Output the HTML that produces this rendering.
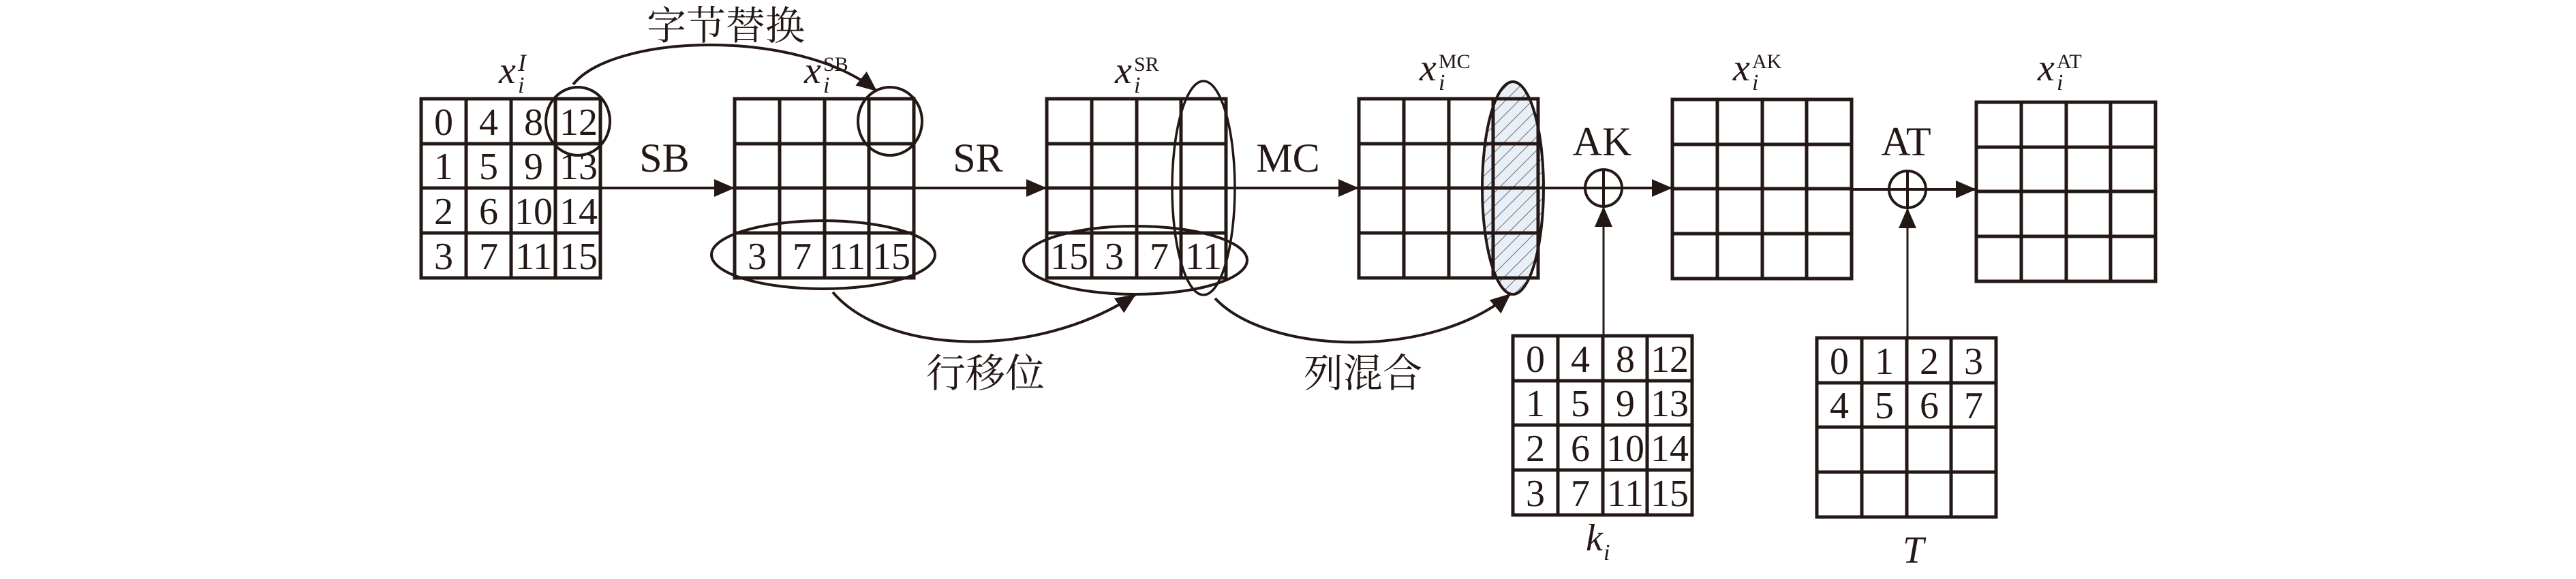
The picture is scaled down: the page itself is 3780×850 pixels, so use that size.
<!DOCTYPE html>
<html><head><meta charset="utf-8"><style>
html,body{margin:0;padding:0;background:#fff;width:3780px;height:850px;overflow:hidden}
svg{display:block}
text{font-family:"Liberation Serif","Noto Serif CJK SC",serif;fill:#231815}
.d{font-size:56px;text-anchor:middle}
.l{font-size:60px;text-anchor:middle}
.c{font-family:"Liberation Serif","Noto Serif CJK SC",serif;font-size:58px;text-anchor:middle}
</style></head><body>
<svg width="3780" height="850" viewBox="0 0 3780 850" xmlns="http://www.w3.org/2000/svg">
<defs>
<marker id="a" markerUnits="userSpaceOnUse" markerWidth="30" markerHeight="30" viewBox="0 0 30 30" refX="30" refY="15" orient="auto">
<path d="M0,2 L30,15 L0,28 Z" fill="#231815"/></marker>
<pattern id="h" patternUnits="userSpaceOnUse" width="14" height="14" patternTransform="rotate(45)">
<rect width="14" height="14" fill="#e9eff7"/><line x1="0" y1="0" x2="0" y2="14" stroke="#6b6b6b" stroke-width="2"/></pattern>
<g id="g" fill="none" stroke="#231815" stroke-width="5">
<rect x="0" y="0" width="263" height="263"/>
<line x1="66" y1="0" x2="66" y2="263"/><line x1="132" y1="0" x2="132" y2="263"/><line x1="197" y1="0" x2="197" y2="263"/>
<line x1="0" y1="66" x2="263" y2="66"/><line x1="0" y1="131" x2="263" y2="131"/><line x1="0" y1="197" x2="263" y2="197"/>
</g>
</defs>

<!-- hatched ellipse behind MC grid -->
<ellipse cx="2220" cy="276" rx="45" ry="156" fill="url(#h)"/>

<use href="#g" x="618" y="145"/>
<use href="#g" x="1078" y="145"/>
<use href="#g" x="1536" y="145"/>
<use href="#g" x="1994" y="145"/>
<use href="#g" x="2454" y="146"/>
<use href="#g" x="2900" y="150"/>
<use href="#g" x="2220" y="493"/>
<use href="#g" x="2666" y="496"/>

<!-- grid 1 digits -->
<g class="d">
<text x="651" y="198">0</text><text x="717" y="198">4</text><text x="783" y="198">8</text><text x="849" y="198">12</text>
<text x="651" y="263">1</text><text x="717" y="263">5</text><text x="783" y="263">9</text><text x="849" y="263">13</text>
<text x="651" y="329">2</text><text x="717" y="329">6</text><text x="783" y="329">10</text><text x="849" y="329">14</text>
<text x="651" y="395">3</text><text x="717" y="395">7</text><text x="783" y="395">11</text><text x="849" y="395">15</text>
<!-- grid2 row -->
<text x="1111" y="395">3</text><text x="1177" y="395">7</text><text x="1243" y="395">11</text><text x="1308" y="395">15</text>
<!-- grid3 row -->
<text x="1569" y="395">15</text><text x="1635" y="395">3</text><text x="1701" y="395">7</text><text x="1766" y="395">11</text>
<!-- key -->
<text x="2253" y="546">0</text><text x="2319" y="546">4</text><text x="2385" y="546">8</text><text x="2450" y="546">12</text>
<text x="2253" y="611">1</text><text x="2319" y="611">5</text><text x="2385" y="611">9</text><text x="2450" y="611">13</text>
<text x="2253" y="677">2</text><text x="2319" y="677">6</text><text x="2385" y="677">10</text><text x="2450" y="677">14</text>
<text x="2253" y="743">3</text><text x="2319" y="743">7</text><text x="2385" y="743">11</text><text x="2450" y="743">15</text>
<!-- T -->
<text x="2699" y="549">0</text><text x="2765" y="549">1</text><text x="2831" y="549">2</text><text x="2896" y="549">3</text>
<text x="2699" y="614">4</text><text x="2765" y="614">5</text><text x="2831" y="614">6</text><text x="2896" y="614">7</text>
</g>

<!-- main flow -->
<g stroke="#231815" stroke-width="4" fill="none">
<line x1="881" y1="276" x2="1078" y2="276" marker-end="url(#a)"/>
<line x1="1339" y1="276" x2="1536" y2="276" marker-end="url(#a)"/>
<line x1="1798" y1="276" x2="1994" y2="276" marker-end="url(#a)"/>
<line x1="2257" y1="276" x2="2326" y2="276"/>
<line x1="2380" y1="276" x2="2454" y2="276" marker-end="url(#a)"/>
<line x1="2715" y1="278" x2="2772" y2="278"/>
<line x1="2826" y1="278" x2="2900" y2="278" marker-end="url(#a)"/>
<circle cx="2353" cy="276" r="27"/><line x1="2326" y1="276" x2="2380" y2="276"/><line x1="2353" y1="249" x2="2353" y2="303"/>
<circle cx="2799" cy="278" r="27"/><line x1="2772" y1="278" x2="2826" y2="278"/><line x1="2799" y1="251" x2="2799" y2="305"/>
<line x1="2353" y1="493" x2="2353" y2="303" stroke-width="3" marker-end="url(#a)"/>
<line x1="2799" y1="496" x2="2799" y2="305" stroke-width="3" marker-end="url(#a)"/>

<!-- ellipses -->
<ellipse cx="848" cy="178" rx="47" ry="50"/>
<ellipse cx="1306" cy="178" rx="47" ry="50"/>
<ellipse cx="1208" cy="374" rx="164" ry="50"/>
<ellipse cx="1666" cy="382" rx="164" ry="50"/>
<ellipse cx="1766" cy="276" rx="46" ry="157" stroke-width="3.5"/>
<ellipse cx="2220" cy="276" rx="45" ry="156" stroke-width="4"/>

<!-- curves -->
<path d="M841,124 C900,50 1170,40 1287,134" marker-end="url(#a)"/>
<path d="M1222,429 C1300,520 1520,530 1667,432" marker-end="url(#a)"/>
<path d="M1783,438 C1860,520 2100,530 2217,431" marker-end="url(#a)"/>
</g>

<!-- labels -->
<g class="l">
<text x="975" y="252">SB</text>
<text x="1435" y="252">SR</text>
<text x="1890" y="252">MC</text>
<text x="2351" y="228">AK</text>
<text x="2797" y="228">AT</text>
</g>
<g class="c">
<text x="1065" y="58">字节替换</text>
<text x="1446" y="568">行移位</text>
<text x="2000" y="568">列混合</text>
</g>

<!-- math labels -->
<g font-size="56">
<text x="732" y="122" font-style="italic">x</text><text x="760" y="136" font-size="34" font-style="italic">i</text><text x="760" y="104" font-size="36" font-style="italic">I</text>
<text x="1180" y="122" font-style="italic">x</text><text x="1208" y="136" font-size="34" font-style="italic">i</text><text x="1208" y="104" font-size="30">SB</text>
<text x="1636" y="122" font-style="italic">x</text><text x="1664" y="136" font-size="34" font-style="italic">i</text><text x="1664" y="104" font-size="30">SR</text>
<text x="2083" y="118" font-style="italic">x</text><text x="2111" y="132" font-size="34" font-style="italic">i</text><text x="2111" y="100" font-size="30">MC</text>
<text x="2543" y="118" font-style="italic">x</text><text x="2571" y="132" font-size="34" font-style="italic">i</text><text x="2571" y="100" font-size="30">AK</text>
<text x="2990" y="118" font-style="italic">x</text><text x="3018" y="132" font-size="34" font-style="italic">i</text><text x="3018" y="100" font-size="30">AT</text>
<text x="2327" y="808" font-style="italic">k</text><text x="2353" y="822" font-size="34" font-style="italic">i</text>
<text x="2792" y="826" font-style="italic">T</text>
</g>
</svg>
</body></html>
